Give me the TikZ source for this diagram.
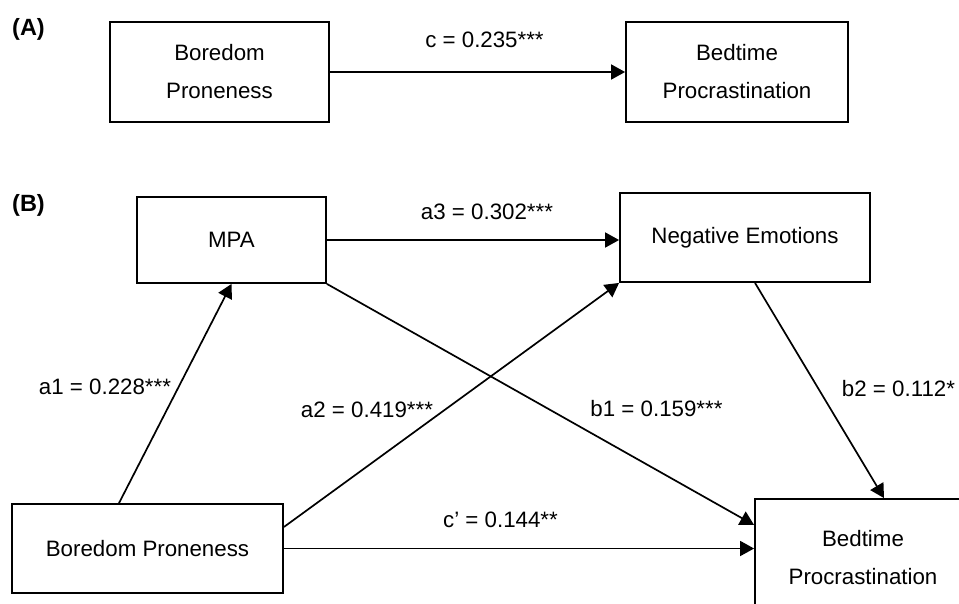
\documentclass[tikz,border=0pt]{standalone}
\usepackage{fontspec}
\setmainfont{Liberation Sans}
\usetikzlibrary{arrows.meta,calc}
\begin{document}
\begin{tikzpicture}[x=1pt,y=-1pt,
  box/.style={draw, line width=1.8pt, inner sep=0pt, align=center, font=\fontsize{22.3}{38}\selectfont},
  lab/.style={inner sep=0pt, font=\fontsize{22.3}{26}\selectfont},
  arr/.style={line width=1.7pt, -{Triangle[length=14pt,width=15pt]}},
  ttl/.style={inner sep=0pt, font=\fontsize{23.5}{26}\selectfont\bfseries}]
\clip (0,0) rectangle (959,603);
\fill[white] (0,0) rectangle (959,603);
% Panel A
\node[ttl] (tA) at (28.5,29) {(A)};
\node[box, minimum width=219pt, minimum height=100pt] (A1) at (219.5,72) {Boredom\\Proneness};
\node[box, minimum width=222pt, minimum height=100pt] (A2) at (737,72) {Bedtime\\Procrastination};
\draw[arr] (A1.east) -- (A2.west);
\node[lab] (lc) at (484.5,40) {c = 0.235***};
% Panel B
\node[ttl] (tB) at (28.5,205) {(B)};
\node[box, minimum width=189pt, minimum height=86pt] (MPA) at (231.5,240) {MPA};
\node[box, minimum width=250pt, minimum height=89pt] (NE) at (745,237.5) {\raisebox{4pt}{Negative Emotions}};
\node[box, minimum width=271pt, minimum height=89pt] (BP) at (147.5,548.5) {Boredom Proneness};
\node[box, minimum width=216pt, minimum height=118pt] (BT) at (863,558) {Bedtime\\Procrastination};
\draw[arr] (MPA.east) -- (NE.west |- MPA.east);
\draw[arr] ([xshift=-28.5pt]BP.north) -- (MPA.south);
\draw[arr] ([yshift=21.5pt]BP.east) -- (NE.south west);
\draw[arr] (MPA.south east) -- ([yshift=33pt]BT.west);
\draw[arr] ([xshift=10pt]NE.south) -- ([xshift=21pt]BT.north);
\draw[arr] (BP.east) -- (BT.west |- BP.east);
\node[lab] (la3) at (487,212) {a3 = 0.302***};
\node[lab] (la1) at (105,387) {a1 = 0.228***};
\node[lab] (la2) at (367,410) {a2 = 0.419***};
\node[lab] (lb1) at (656.5,409) {b1 = 0.159***};
\node[lab] (lb2) at (898.5,389) {b2 = 0.112*};
\node[lab] (lcp) at (500.5,520) {c’ = 0.144**};
\end{tikzpicture}
\end{document}
